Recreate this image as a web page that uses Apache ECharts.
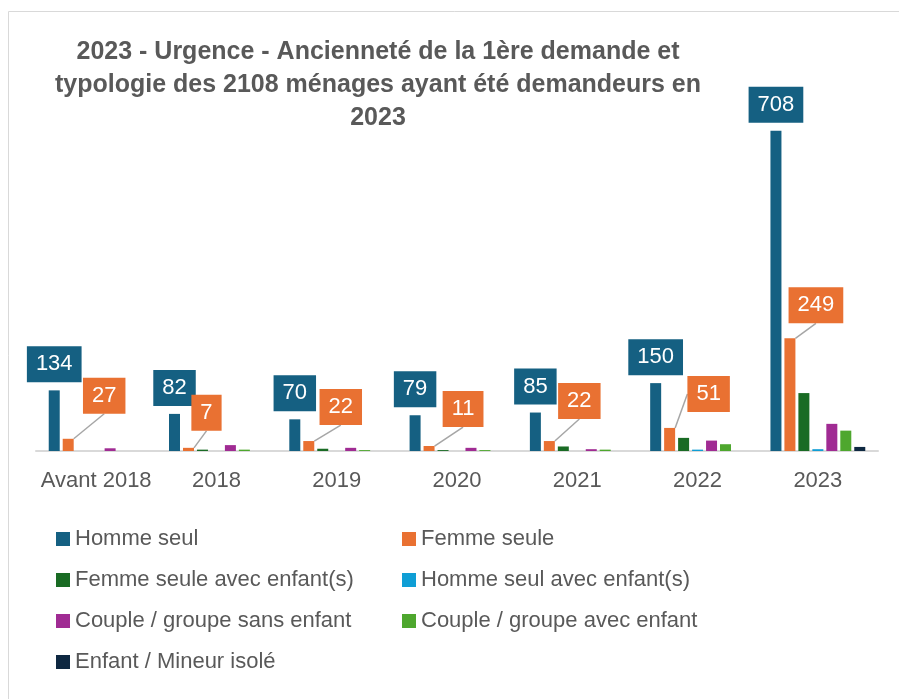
<!DOCTYPE html>
<html>
<head>
<meta charset="utf-8">
<script src="https://cdn.jsdelivr.net/npm/echarts@6/dist/echarts.min.js"></script>
<style>
  html, body { margin: 0; padding: 0; background: #fff; }
  #chart { width: 899px; height: 699px; }
</style>
</head>
<body>
<div id="chart"></div>
<script>
const categories = ['Avant 2018', '2018', '2019', '2020', '2021', '2022', '2023'];

const hommeSeul = [134, 82, 70, 79, 85, 150, 708];
const femmeSeule = [27, 7, 22, 11, 22, 51, 249];
const femmeEnfant = [0, 3, 5, 2, 10, 29, 128];
const hommeEnfant = [0, 0, 0, 0, 0, 3, 4];
const coupleSans = [6, 13, 7, 7, 4, 23, 60];
const coupleAvec = [0, 3, 2, 2, 3, 15, 45];
const enfantIsole = [0, 0, 0, 0, 0, 0, 9];

// where the Femme seule callouts sit, relative to the default 'top' spot
const femmeLabelDx = [36, 18, 32, 34, 30, 39, 26];
const femmeLabelDy = [-20, -12, -11, -14, -17, -11, -10];

const textColor = '#595959';
const font = 'Liberation Sans';

function bar(name, data, color, label) {
  return {
    name: name,
    type: 'bar',
    data: data,
    barWidth: 11,
    barGap: '27%',
    itemStyle: { color: color },
    label: label || { show: false }
  };
}

function boxLabel(color, distance) {
  return {
    show: true,
    position: 'top',
    distance: distance,
    fontFamily: font,
    fontSize: 22,
    lineHeight: 24,
    color: '#fff',
    backgroundColor: color,
    padding: [6, 9]
  };
}

const chart = echarts.init(document.getElementById('chart'));

const option = {
  animation: false,
  title: {
    text: '2023 - Urgence - Ancienneté de la 1ère demande et\ntypologie des 2108 ménages ayant été demandeurs en\n2023',
    left: 373,
    top: 31,
    textAlign: 'center',
    textStyle: {
      fontFamily: font,
      fontWeight: 'bold',
      fontSize: 25,
      lineHeight: 33,
      color: textColor
    }
  },
  graphic: [{
    type: 'rect',
    shape: { x: 8.5, y: 11.5, width: 1000, height: 1000 },
    style: { fill: 'none', stroke: '#d9d9d9', lineWidth: 1 },
    silent: true
  }],
  legend: {
    left: 51,
    top: 523,
    width: 760,
    itemWidth: 14,
    itemHeight: 14,
    itemGap: 19,
    icon: 'rect',
    textStyle: {
      fontFamily: font,
      fontSize: 22,
      lineHeight: 21,
      color: textColor,
      width: 308
    }
  },
  grid: { left: 36, right: 21, top: 89, bottom: 248 },
  xAxis: {
    type: 'category',
    data: categories,
    axisLine: { lineStyle: { color: '#d9d9d9', width: 2 } },
    axisTick: { show: false },
    axisLabel: {
      interval: 0,
      fontFamily: font,
      fontSize: 22,
      color: textColor,
      margin: 19
    }
  },
  yAxis: {
    type: 'value',
    min: 0,
    max: 800,
    show: false
  },
  series: [
    bar('Homme seul', hommeSeul, '#156082', boxLabel('#156082', 8)),
    Object.assign(bar('Femme seule', femmeSeule, '#E97132', boxLabel('#E97132', 5)), {
      labelLine: { show: true, lineStyle: { color: '#a6a6a6', width: 1.5 } },
      labelLayout: function (p) {
        return { dx: femmeLabelDx[p.dataIndex], dy: femmeLabelDy[p.dataIndex] };
      }
    }),
    bar('Femme seule avec enfant(s)', femmeEnfant, '#196B24'),
    bar('Homme seul avec enfant(s)', hommeEnfant, '#0F9ED5'),
    bar('Couple / groupe sans enfant', coupleSans, '#A02B93'),
    bar('Couple / groupe avec enfant', coupleAvec, '#4EA72E'),
    bar('Enfant / Mineur isolé', enfantIsole, '#0E2841')
  ]
};

chart.setOption(option);
</script>
</body>
</html>
